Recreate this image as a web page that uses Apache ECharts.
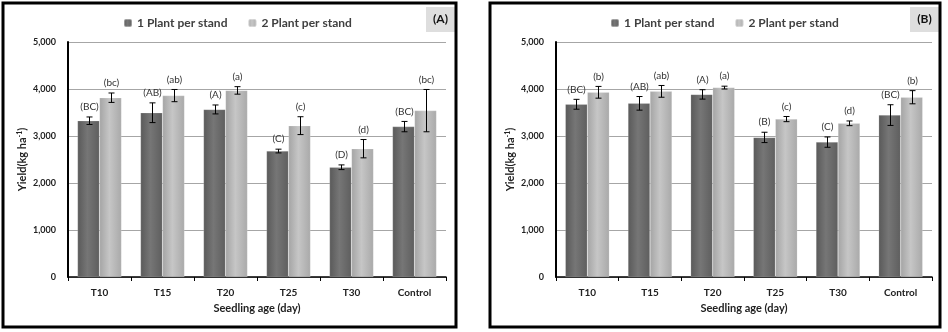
<!DOCTYPE html>
<html>
<head>
<meta charset="utf-8">
<script src="https://cdn.jsdelivr.net/npm/echarts@6/dist/echarts.min.js"></script>
<style>
html,body{margin:0;padding:0;background:#fff;}
#c{width:948px;height:332px;}
</style>
</head>
<body>
<div id="c"></div>
<script>
var categories = ['T10', 'T15', 'T20', 'T25', 'T30', 'Control'];
var seriesNames = ['1 Plant per stand', '2 Plant per stand'];
var yTicks = [0, 1000, 2000, 3000, 4000, 5000];

var yieldA1 = [3325, 3495, 3565, 2680, 2335, 3200];
var yieldA2 = [3815, 3860, 3970, 3220, 2730, 3540];
var errA1 = [80, 210, 95, 40, 50, 110];
var errA2 = [100, 130, 80, 190, 195, 450];
var lettersA1 = ['(BC)', '(AB)', '(A)', '(C)', '(D)', '(BC)'];
var lettersA2 = ['(bc)', '(ab)', '(a)', '(c)', '(d)', '(bc)'];

var yieldB1 = [3675, 3695, 3885, 2970, 2870, 3445];
var yieldB2 = [3930, 3950, 4030, 3360, 3270, 3825];
var errB1 = [105, 145, 100, 110, 110, 220];
var errB2 = [125, 125, 30, 55, 50, 140];
var lettersB1 = ['(BC)', '(AB)', '(A)', '(B)', '(C)', '(BC)'];
var lettersB2 = ['(b)', '(ab)', '(a)', '(c)', '(d)', '(b)'];

var FONT = 'Lato, "Open Sans", sans-serif';

var darkFill = new echarts.graphic.LinearGradient(0, 0, 1, 0, [
  {offset: 0, color: '#595959'}, {offset: 0.45, color: '#767676'}, {offset: 1, color: '#5e5e5e'}]);
var lightFill = new echarts.graphic.LinearGradient(0, 0, 1, 0, [
  {offset: 0, color: '#a4a4a4'}, {offset: 0.45, color: '#c6c6c6'}, {offset: 1, color: '#a9a9a9'}]);

function makeErr(vals, errs, letters, off, gi) {
  return {
    type: 'custom',
    xAxisIndex: gi, yAxisIndex: gi,
    z: 5,
    silent: true,
    data: vals.map(function (v, i) { return [i, v, errs[i]]; }),
    renderItem: function (params, api) {
      var i = api.value(0), v = api.value(1), e = api.value(2);
      var c = api.coord([i, v]);
      var x = Math.round(c[0] + off) + 0.5;
      var yt = api.coord([i, v + e])[1];
      var yb = api.coord([i, v - e])[1];
      var st = {stroke: '#000', lineWidth: 1};
      return {
        type: 'group',
        children: [
          {type: 'line', shape: {x1: x, y1: yt, x2: x, y2: yb}, style: st},
          {type: 'line', shape: {x1: x - 3, y1: yt, x2: x + 3, y2: yt}, style: st},
          {type: 'line', shape: {x1: x - 3, y1: yb, x2: x + 3, y2: yb}, style: st},
          {type: 'text', x: x, y: yt - 10, style: {
            text: letters[params.dataIndex], fill: '#333', font: '10px ' + FONT,
            align: 'center', verticalAlign: 'middle'}}
        ]
      };
    }
  };
}

function xAx(gi) {
  return {
    type: 'category', gridIndex: gi, data: categories,
    axisLine: {lineStyle: {color: '#000', width: 1.5}},
    axisTick: {show: true, alignWithLabel: false, length: 4, lineStyle: {color: '#000'}},
    axisLabel: {color: '#222', fontWeight: 'bold', fontSize: 10, fontFamily: FONT, margin: 11},
    name: 'Seedling age (day)', nameLocation: 'middle', nameGap: 25,
    nameTextStyle: {color: '#222', fontSize: 11, fontFamily: FONT, fontWeight: 'bold'}
  };
}
function yAx(gi) {
  return {
    type: 'value', gridIndex: gi, min: yTicks[0], max: yTicks[yTicks.length - 1], interval: 1000,
    axisLine: {show: true, lineStyle: {color: '#000', width: 2}},
    axisTick: {show: false},
    splitLine: {lineStyle: {color: '#a6a6a6', width: 1}},
    axisLabel: {color: '#222', fontWeight: 'bold', fontSize: 9, fontFamily: FONT, margin: 12,
      formatter: function (v) { return v.toLocaleString('en-US'); }},
    name: 'Yield(kg ha{sup|-1})', nameLocation: 'middle', nameGap: 39, nameRotate: 90,
    nameTextStyle: {color: '#222', fontSize: 11, fontFamily: FONT, fontWeight: 'bold',
      rich: {sup: {fontSize: 7, verticalAlign: 'top', color: '#222', fontFamily: FONT, fontWeight: 'bold', padding: [0, 0, 6, 0]}}}
  };
}
function bar(name, vals, fill, gi) {
  return {
    type: 'bar', name: name, xAxisIndex: gi, yAxisIndex: gi, data: vals,
    barWidth: 22, barGap: '0%',
    itemStyle: {color: fill, borderColor: 'rgba(255,255,255,0.35)', borderWidth: 0.5},
    z: 2
  };
}

var chart = echarts.init(document.getElementById('c'), null, {renderer: 'canvas'});
chart.setOption({
  backgroundColor: '#fff',
  animation: false,
  textStyle: {fontFamily: FONT},
  grid: [
    {left: 68, right: 502, top: 42, bottom: 55},
    {left: 556, right: 16, top: 42, bottom: 55}
  ],
  legend: [
    {data: seriesNames, left: 118, top: 12, itemWidth: 8, itemHeight: 8, itemGap: 20,
      textStyle: {fontSize: 12, fontWeight: 'bold', color: '#404040', fontFamily: FONT}},
    {data: seriesNames, left: 605, top: 12, itemWidth: 8, itemHeight: 8, itemGap: 20,
      textStyle: {fontSize: 12, fontWeight: 'bold', color: '#404040', fontFamily: FONT}}
  ],
  xAxis: [xAx(0), xAx(1)],
  yAxis: [yAx(0), yAx(1)],
  series: [
    bar(seriesNames[0], yieldA1, darkFill, 0),
    bar(seriesNames[1], yieldA2, lightFill, 0),
    bar(seriesNames[0], yieldB1, darkFill, 1),
    bar(seriesNames[1], yieldB2, lightFill, 1),
    makeErr(yieldA1, errA1, lettersA1, -11, 0),
    makeErr(yieldA2, errA2, lettersA2, 11, 0),
    makeErr(yieldB1, errB1, lettersB1, -11, 1),
    makeErr(yieldB2, errB2, lettersB2, 11, 1)
  ],
  graphic: [
    {type: 'rect', shape: {x: 3, y: 3, width: 453, height: 324}, style: {fill: 'none', stroke: '#000', lineWidth: 3}, z: 10},
    {type: 'rect', shape: {x: 490, y: 3, width: 450, height: 324}, style: {fill: 'none', stroke: '#000', lineWidth: 3}, z: 10},
    {type: 'rect', shape: {x: 426, y: 7, width: 29, height: 25}, style: {fill: '#dedede'}, z: 9},
    {type: 'text', x: 440.5, y: 19.5, style: {text: '(A)', font: 'bold 12px ' + FONT, fill: '#111', align: 'center', verticalAlign: 'middle'}, z: 11},
    {type: 'rect', shape: {x: 910, y: 7, width: 29, height: 25}, style: {fill: '#dedede'}, z: 9},
    {type: 'text', x: 924.5, y: 19.5, style: {text: '(B)', font: 'bold 12px ' + FONT, fill: '#111', align: 'center', verticalAlign: 'middle'}, z: 11}
  ]
});
</script>
</body>
</html>
